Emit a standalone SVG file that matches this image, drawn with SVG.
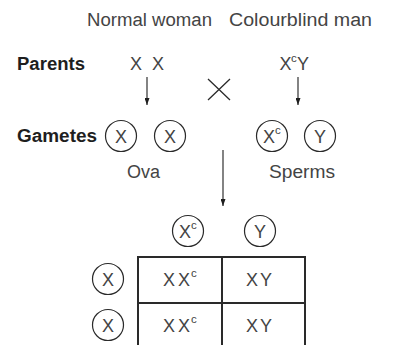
<svg xmlns="http://www.w3.org/2000/svg" width="411" height="345" viewBox="0 0 411 345">
  <style>
    .lbl { font-family: "Liberation Sans", Arial, sans-serif; font-size: 18px; fill: #444444; }
    .bold { font-family: "Liberation Sans", Arial, sans-serif; font-size: 18px; font-weight: bold; fill: #1e1e1e; }
    .sup { font-family: "Liberation Sans", Arial, sans-serif; font-size: 11.5px; fill: #444444; }
    .mid { text-anchor: middle; }
    .ring { fill: none; stroke: #2a2a2a; stroke-width: 1.2; }
    .grid { fill: none; stroke: #2a2a2a; stroke-width: 2; }
    .arrow { stroke: #1e1e1e; stroke-width: 1.1; fill: none; marker-end: url(#head); }
  </style>
  <defs>
    <marker id="head" markerUnits="userSpaceOnUse" markerWidth="6" markerHeight="8" refX="2.5" refY="7" orient="0">
      <path d="M0,0 L5,0 L2.5,7 Z" fill="#1e1e1e"/>
    </marker>
  </defs>

  <rect width="411" height="345" fill="#ffffff"/>

  <!-- column headings -->
  <g id="heading-woman"><text class="lbl" x="87" y="26" textLength="125" lengthAdjust="spacingAndGlyphs">Normal woman</text></g>
  <g id="heading-man"><text class="lbl" x="229" y="26" textLength="143" lengthAdjust="spacingAndGlyphs">Colourblind man</text></g>

  <!-- parents row -->
  <g id="label-parents"><text class="bold" x="17" y="70" textLength="68" lengthAdjust="spacingAndGlyphs">Parents</text></g>
  <g id="parent-woman">
    <text class="lbl mid" x="136" y="70">X</text>
    <text class="lbl mid" x="158" y="70">X</text>
  </g>
  <g id="parent-man">
    <text class="lbl mid" x="285.5" y="70">X</text>
    <text class="sup" x="291" y="62">c</text>
    <text class="lbl mid" x="303" y="70">Y</text>
  </g>
  <g id="cross">
    <path d="M208,79 L230,100 M230,79 L208,100" stroke="#2a2a2a" stroke-width="1.3" fill="none"/>
  </g>

  <!-- gametes row -->
  <g id="label-gametes"><text class="bold" x="17" y="142" textLength="80" lengthAdjust="spacingAndGlyphs">Gametes</text></g>
  <g id="ovum-1">
    <circle class="ring" cx="121" cy="136" r="15.5"/>
    <text class="lbl mid" x="121" y="142.5">X</text>
  </g>
  <g id="ovum-2">
    <circle class="ring" cx="170" cy="136" r="15.5"/>
    <text class="lbl mid" x="170" y="142.5">X</text>
  </g>
  <g id="sperm-xc">
    <circle class="ring" cx="272" cy="136" r="15.5"/>
    <text class="lbl mid" x="269" y="142.5">X</text>
    <text class="sup" x="275" y="134">c</text>
  </g>
  <g id="sperm-y">
    <circle class="ring" cx="320" cy="136" r="15.5"/>
    <text class="lbl mid" x="320" y="142.5">Y</text>
  </g>
  <g id="label-ova"><text class="lbl" x="127" y="178">Ova</text></g>
  <g id="label-sperms"><text class="lbl" x="269" y="178" textLength="66" lengthAdjust="spacingAndGlyphs">Sperms</text></g>

  <!-- connectors -->
  <g id="connectors">
    <line class="arrow" x1="147" y1="77" x2="147" y2="105"/>
    <line class="arrow" x1="298" y1="77" x2="298" y2="105"/>
    <line class="arrow" x1="223" y1="150" x2="223" y2="206"/>
  </g>

  <!-- Punnett square headers -->
  <g id="col-xc">
    <circle class="ring" cx="188" cy="231" r="15.5"/>
    <text class="lbl mid" x="185" y="237.5">X</text>
    <text class="sup" x="191" y="229">c</text>
  </g>
  <g id="col-y">
    <circle class="ring" cx="260" cy="231" r="15.5"/>
    <text class="lbl mid" x="260" y="237.5">Y</text>
  </g>
  <g id="row-x1">
    <circle class="ring" cx="108" cy="279" r="15.5"/>
    <text class="lbl mid" x="108" y="285.5">X</text>
  </g>
  <g id="row-x2">
    <circle class="ring" cx="108" cy="325" r="15.5"/>
    <text class="lbl mid" x="108" y="331.5">X</text>
  </g>

  <!-- Punnett square grid -->
  <g id="punnett-grid">
    <path class="grid" d="M138,350 L138,257 L305,257 L305,350 M222,257 L222,350 M138,303 L305,303"/>
  </g>
  <g id="cell-1-1">
    <text class="lbl" x="163" y="286">X</text>
    <text class="lbl" x="178" y="286">X</text>
    <text class="sup" x="191" y="277">c</text>
  </g>
  <g id="cell-1-2">
    <text class="lbl" x="246" y="286">X</text>
    <text class="lbl" x="260" y="286">Y</text>
  </g>
  <g id="cell-2-1">
    <text class="lbl" x="163" y="332">X</text>
    <text class="lbl" x="178" y="332">X</text>
    <text class="sup" x="191" y="323">c</text>
  </g>
  <g id="cell-2-2">
    <text class="lbl" x="246" y="332">X</text>
    <text class="lbl" x="260" y="332">Y</text>
  </g>
</svg>
